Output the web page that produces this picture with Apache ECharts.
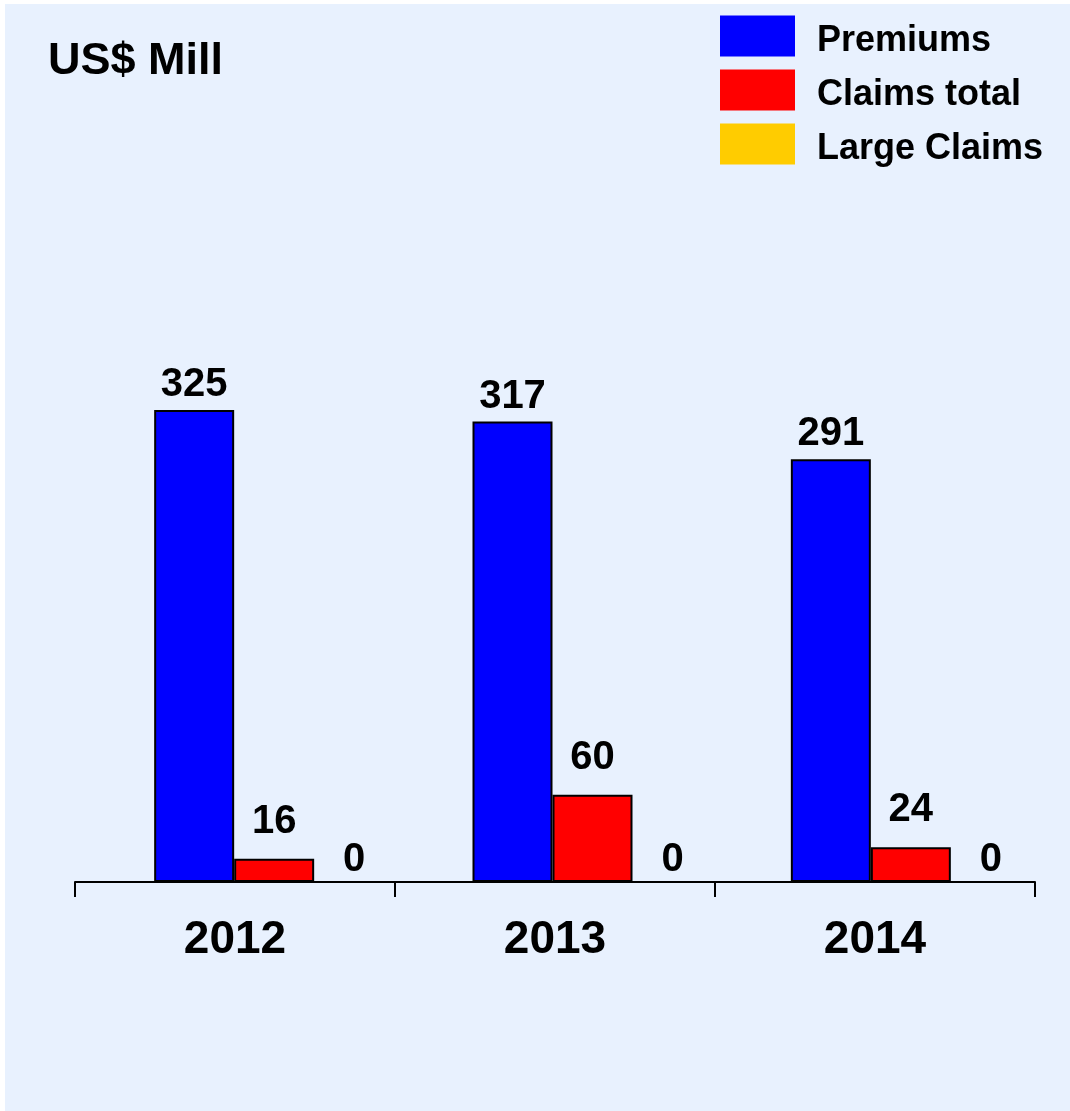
<!DOCTYPE html>
<html>
<head>
<meta charset="utf-8">
<script src="https://cdn.jsdelivr.net/npm/echarts@6/dist/echarts.min.js"></script>
<style>
  html, body { margin: 0; padding: 0; background: #fff; }
  #chart { width: 1070px; height: 1111px; }
</style>
</head>
<body>
<div id="chart"></div>
<script>
const years = ["2012", "2013", "2014"]
const premiums = [325, 317, 291]
const claimsTotal = [16, 60, 24]
const largeClaims = [0, 0, 0]

const font = "'Liberation Sans', Arial, sans-serif"
const chart = echarts.init(document.getElementById("chart"))

function barSeries(name, data, color, dist) {
  return {
    name: name,
    type: "bar",
    xAxisIndex: 1,
    yAxisIndex: 1,
    data: data,
    barWidth: 80,
    barGap: "0%",
    itemStyle: { color: color, borderColor: "#000", borderWidth: 2 },
    label: {
      show: true,
      position: "top",
      distance: dist,
      color: "#000",
      fontFamily: font,
      fontWeight: "bold",
      fontSize: 40
    },
    emphasis: { disabled: true }
  }
}

const option = {
  animation: false,
  backgroundColor: "#fff",
  graphic: [
    {
      type: "rect",
      z: -10,
      shape: { x: 5, y: 4, width: 1065, height: 1107 },
      style: { fill: "#E8F1FE" }
    }
  ],
  title: {
    text: "US$ Mill",
    left: 43,
    top: 34,
    textStyle: { color: "#000", fontFamily: font, fontWeight: "bold", fontSize: 45 }
  },
  legend: {
    orient: "vertical",
    left: 715,
    top: 8,
    itemWidth: 75,
    itemHeight: 41,
    itemGap: 8,
    icon: "rect",
    itemStyle: { borderWidth: 0 },
    formatter: "{a|{name}}",
    textStyle: {
      color: "#000", fontFamily: font, fontWeight: "bold", fontSize: 36,
      padding: [0, 0, 0, 17],
      rich: {
        a: {
          color: "#000", fontFamily: font, fontWeight: "bold", fontSize: 36,
          lineHeight: 30, padding: [10, 0, 0, 0]
        }
      }
    },
    data: ["Premiums", "Claims total", "Large Claims"]
  },
  grid: [
    { left: 75, width: 960, top: 301, height: 581 },
    { left: 115, width: 960, top: 301, height: 581 }
  ],
  xAxis: [
    {
      type: "category",
      gridIndex: 0,
      data: years,
      axisLine: { show: true, lineStyle: { color: "#000", width: 2 } },
      axisTick: { show: true, length: 15, lineStyle: { color: "#000", width: 2 } },
      axisLabel: {
        margin: 35,
        color: "#000",
        fontFamily: font,
        fontWeight: "bold",
        fontSize: 46
      }
    },
    {
      type: "category",
      gridIndex: 1,
      data: years,
      show: false
    }
  ],
  yAxis: [
    { type: "value", gridIndex: 0, min: 0, max: 400, show: false },
    { type: "value", gridIndex: 1, min: 0, max: 400, show: false }
  ],
  series: [
    barSeries("Premiums", premiums, "#0000FF", 5),
    barSeries("Claims total", claimsTotal, "#FF0000", 17),
    barSeries("Large Claims", largeClaims, "#FFCC00", 1)
  ]
}

chart.setOption(option)
</script>
</body>
</html>
